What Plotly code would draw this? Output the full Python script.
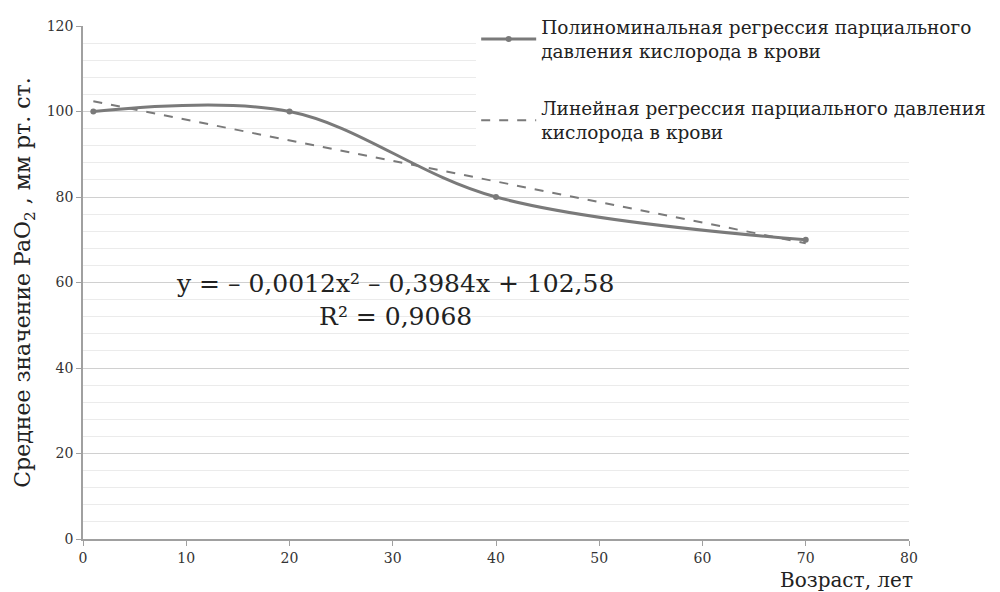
import plotly.graph_objects as go

age = [1, 20, 40, 70]
pao2 = [100, 100, 80, 70]
trend_x = [1, 70]
trend_y = [102.4, 69.2]
x_ticks = [0, 10, 20, 30, 40, 50, 60, 70, 80]
y_ticks = [0, 20, 40, 60, 80, 100, 120]

name_poly = "Полиноминальная регрессия парциального<br>давления кислорода в крови"
name_lin = "Линейная регрессия парциального давления<br>кислорода в крови"
equation = "y = – 0,0012x² – 0,3984x + 102,58<br>R² = 0,9068"

SERIF = "DejaVu Serif"
GRAY = "#7a7a7a"

fig = go.Figure()
fig.add_trace(go.Scatter(
    x=age, y=pao2, mode="lines+markers", name=name_poly, legendgroup="poly",
    line=dict(color=GRAY, width=3, shape="spline", smoothing=1),
    marker=dict(color=GRAY, size=6),
))
fig.add_trace(go.Scatter(
    x=trend_x, y=trend_y, mode="lines", name=name_lin, legendgroup="lin",
    line=dict(color=GRAY, width=2, dash="dash"),
))

fig.add_annotation(
    x=30.2, y=56, xref="x", yref="y", text=equation, showarrow=False,
    font=dict(family=SERIF, size=25, color="#222222"), align="center",
)
fig.add_annotation(
    x=1.007, y=-0.08, xref="paper", yref="paper", text="Возраст, лет",
    showarrow=False, xanchor="right", yanchor="middle",
    font=dict(family=SERIF, size=20, color="#222222"),
)

fig.update_layout(
    width=1000, height=592,
    margin=dict(l=75, r=99, t=18, b=61, autoexpand=False),
    paper_bgcolor="white", plot_bgcolor="white",
    font=dict(family=SERIF, color="#404040"),
    showlegend=True,
    legend=dict(
        x=0.476, y=1.034, xanchor="left", yanchor="top",
        bgcolor="white", font=dict(family=SERIF, size=18.5, color="#222222"),
        itemwidth=55, tracegroupgap=30, valign="middle",
    ),
    xaxis=dict(
        range=[0, 80], tickvals=x_ticks, showgrid=False,
        showline=True, linecolor="#a0a0a0", linewidth=1.5,
        ticks="outside", ticklen=5, tickcolor="#a0a0a0",
        tickfont=dict(family=SERIF, size=14, color="#333333"),
        zeroline=False, automargin=False,
    ),
    yaxis=dict(
        range=[0, 120], tickvals=y_ticks, showgrid=True,
        gridcolor="#d0d0d0", gridwidth=1.2,
        minor=dict(dtick=4, showgrid=True, gridcolor="#ebebeb", gridwidth=1),
        showline=True, linecolor="#a0a0a0", linewidth=1.5,
        ticks="outside", ticklen=5, tickcolor="#a0a0a0",
        tickfont=dict(family=SERIF, size=14, color="#333333"),
        zeroline=False, automargin=False,
        title=dict(text="Среднее значение PaO<sub>2</sub> , мм рт. ст.",
                   font=dict(family=SERIF, size=22, color="#222222"), standoff=10),
    ),
)

fig.write_html("out.html")
